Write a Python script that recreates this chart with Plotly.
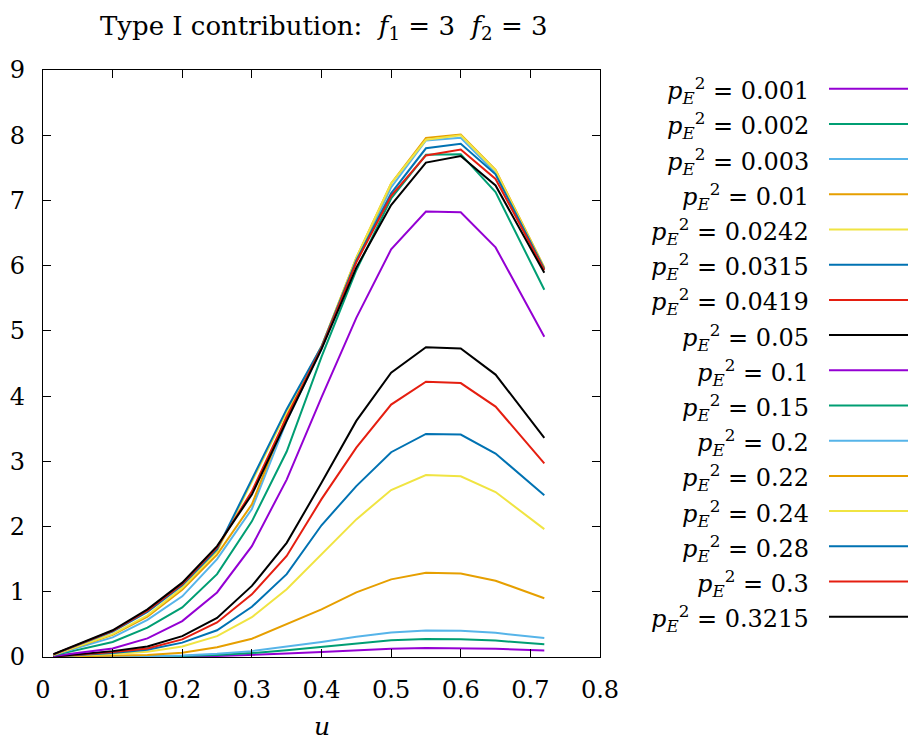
import plotly.graph_objects as go

# ---- data ----
u = [0.015, 0.1, 0.15, 0.2, 0.25, 0.3, 0.35, 0.4, 0.45, 0.5, 0.55, 0.6, 0.65, 0.72]

p_labels = ["0.001", "0.002", "0.003", "0.01", "0.0242", "0.0315", "0.0419", "0.05",
            "0.1", "0.15", "0.2", "0.22", "0.24", "0.28", "0.3", "0.3215"]

s_0001 = [0.001, 0.002, 0.004, 0.008, 0.016, 0.03, 0.052, 0.077, 0.105, 0.128, 0.138, 0.137, 0.126, 0.098]
s_0002 = [0.001, 0.003, 0.007, 0.015, 0.032, 0.06, 0.105, 0.155, 0.21, 0.255, 0.275, 0.274, 0.252, 0.196]
s_0003 = [0.002, 0.005, 0.01, 0.022, 0.048, 0.09, 0.155, 0.23, 0.31, 0.375, 0.405, 0.403, 0.37, 0.29]
s_001 = [0.005, 0.015, 0.03, 0.066, 0.15, 0.28, 0.50, 0.73, 0.99, 1.19, 1.29, 1.28, 1.17, 0.90]
s_00242 = [0.008, 0.045, 0.08, 0.16, 0.32, 0.61, 1.04, 1.57, 2.11, 2.56, 2.79, 2.77, 2.53, 1.96]
s_00315 = [0.007, 0.06, 0.11, 0.22, 0.41, 0.77, 1.27, 2.02, 2.62, 3.14, 3.42, 3.41, 3.12, 2.48]
s_00419 = [0.007, 0.075, 0.13, 0.27, 0.53, 0.96, 1.55, 2.42, 3.21, 3.87, 4.22, 4.20, 3.84, 2.97]
s_005 = [0.008, 0.09, 0.16, 0.32, 0.60, 1.09, 1.75, 2.67, 3.62, 4.36, 4.75, 4.73, 4.33, 3.36]
s_01 = [0.015, 0.13, 0.285, 0.55, 0.99, 1.70, 2.72, 3.98, 5.20, 6.25, 6.83, 6.82, 6.28, 4.91]
s_015 = [0.025, 0.23, 0.45, 0.76, 1.27, 2.08, 3.15, 4.60, 5.93, 7.03, 7.70, 7.71, 7.13, 5.63]
s_02 = [0.03, 0.30, 0.57, 0.93, 1.50, 2.27, 3.62, 4.72, 6.08, 7.20, 7.92, 7.96, 7.42, 5.95]
s_022 = [0.035, 0.34, 0.62, 1.03, 1.57, 2.34, 3.70, 4.76, 6.12, 7.26, 7.96, 8.01, 7.47, 5.97]
s_024 = [0.035, 0.35, 0.64, 1.06, 1.62, 2.69, 3.76, 4.76, 6.12, 7.26, 7.93, 8.00, 7.46, 5.96]
s_028 = [0.04, 0.39, 0.69, 1.10, 1.65, 2.72, 3.80, 4.76, 6.08, 7.11, 7.80, 7.87, 7.40, 5.95]
s_03 = [0.04, 0.40, 0.71, 1.12, 1.68, 2.54, 3.68, 4.74, 6.05, 7.07, 7.69, 7.78, 7.33, 5.93]
s_03215 = [0.045, 0.41, 0.73, 1.14, 1.70, 2.49, 3.62, 4.72, 5.97, 6.93, 7.58, 7.68, 7.23, 5.89]

series = [s_0001, s_0002, s_0003, s_001, s_00242, s_00315, s_00419, s_005,
          s_01, s_015, s_02, s_022, s_024, s_028, s_03, s_03215]

palette = ["#9400d3", "#009e73", "#56b4e9", "#e69f00", "#f0e442", "#0072b2", "#e51e10", "#000000"]

x_ticks = [0, 0.1, 0.2, 0.3, 0.4, 0.5, 0.6, 0.7, 0.8]
x_ticklabels = ["0", "0.1", "0.2", "0.3", "0.4", "0.5", "0.6", "0.7", "0.8"]
y_ticks = list(range(0, 10))
y_ticklabels = [str(v) for v in y_ticks]

# ---- layout constants ----
W, H = 909, 742
ML, MR, MT, MB = 43, 309, 70, 85
PW, PH = W - ML - MR, H - MT - MB
FONT = "DejaVu Serif"


def px_x(px):
    return (px - ML) / PW


def px_y(py):
    return (H - MB - py) / PH


fig = go.Figure()
for i, (vals, lab) in enumerate(zip(series, p_labels)):
    fig.add_trace(go.Scatter(
        x=u, y=vals, mode="lines",
        line=dict(color=palette[i % 8], width=2),
        name=lab, showlegend=False,
    ))

# manual gnuplot-style key: text right-aligned, sample line to the right
shapes = []
annotations = []
for i, lab in enumerate(p_labels):
    yc = 88.7 + 35.2 * i
    shapes.append(dict(type="line", xref="paper", yref="paper",
                       x0=px_x(829), x1=px_x(908), y0=px_y(yc), y1=px_y(yc),
                       line=dict(color=palette[i % 8], width=2)))
    annotations.append(dict(xref="paper", yref="paper", x=px_x(811), y=px_y(yc + 2),
                            xanchor="right", yanchor="middle", showarrow=False,
                            text="<i>p</i><sub><i>E</i></sub><sup>2</sup> = " + lab,
                            font=dict(family=FONT, size=24, color="black")))

annotations.append(dict(xref="paper", yref="paper", x=px_x(324), y=px_y(28),
                        xanchor="center", yanchor="middle", showarrow=False,
                        text="Type I contribution:  <i>f</i><sub>1</sub> = 3  <i>f</i><sub>2</sub> = 3",
                        font=dict(family=FONT, size=26, color="black")))
annotations.append(dict(xref="paper", yref="paper", x=px_x(322), y=px_y(726),
                        xanchor="center", yanchor="middle", showarrow=False,
                        text="<i>u</i>",
                        font=dict(family=FONT, size=25, color="black")))

axis_common = dict(showline=True, linecolor="black", linewidth=1.2, mirror="ticks",
                   ticks="inside", ticklen=8, tickwidth=1, tickcolor="black",
                   showgrid=False, zeroline=False,
                   tickfont=dict(family=FONT, size=24, color="black"))

fig.update_layout(
    width=W, height=H,
    margin=dict(l=ML, r=MR, t=MT, b=MB, autoexpand=False),
    paper_bgcolor="white", plot_bgcolor="white",
    showlegend=False,
    shapes=shapes, annotations=annotations,
    xaxis=dict(range=[0, 0.8], tickvals=x_ticks, ticktext=x_ticklabels,
               ticklabelstandoff=11, **axis_common),
    yaxis=dict(range=[0, 9], tickvals=y_ticks, ticktext=y_ticklabels,
               ticklabelstandoff=12, **axis_common),
)

fig.write_html("out.html")
